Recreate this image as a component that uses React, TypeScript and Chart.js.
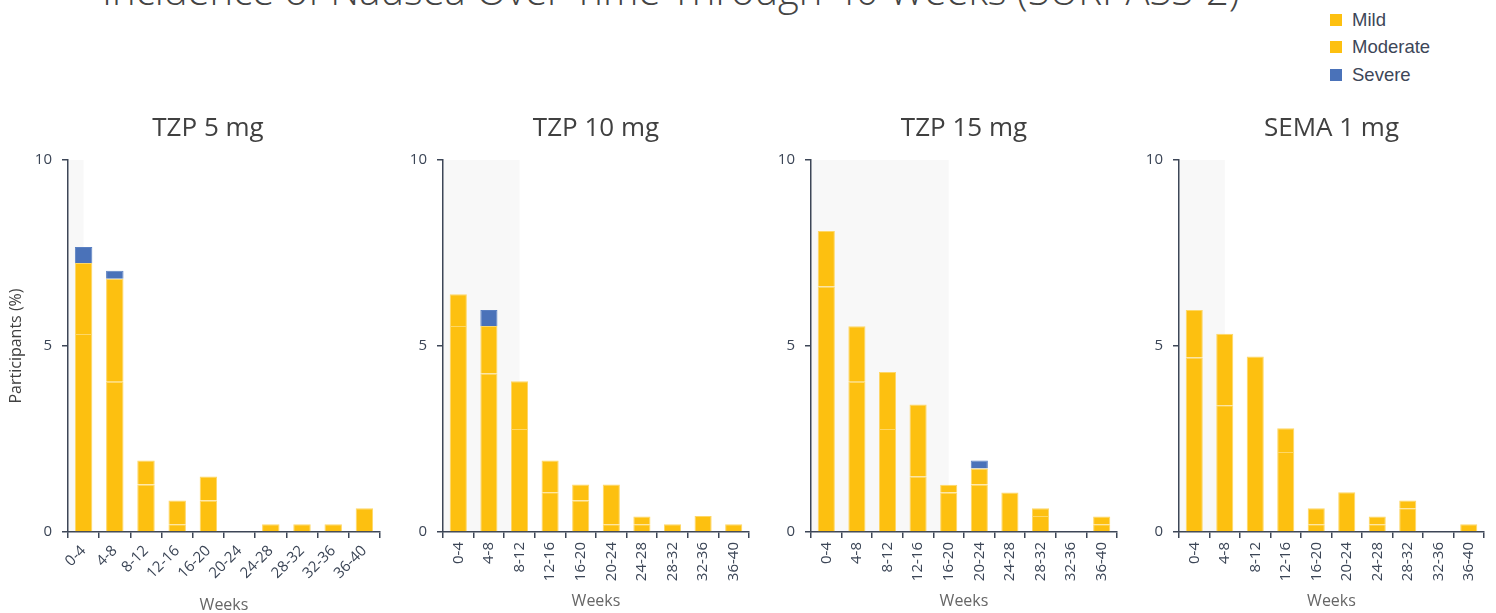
import React, { useEffect, useRef } from 'react';
import { Chart, registerables } from 'chart.js';

Chart.register(...registerables);

// ---------- DATA ----------
const mainTitle = 'Incidence of Nausea Over Time Through 40 Weeks (SURPASS-2)';
const weeks = ['0-4', '4-8', '8-12', '12-16', '16-20', '20-24', '24-28', '28-32', '32-36', '36-40'];
const seriesNames = ['Mild', 'Moderate', 'Severe'];
const seriesColors = ['#FDC010', '#FDC010', '#4A72B9'];
const panelTitles = ['TZP 5 mg', 'TZP 10 mg', 'TZP 15 mg', 'SEMA 1 mg'];
const yTicks = [0, 5, 10];
const yAxisTitle = 'Participants (%)';
const xAxisTitle = 'Weeks';
// index of the week category where the shaded (dose-escalation) band ends
const shadeEnd = [0, 2, 4, 1];

const tzp5Mild = [5.32, 4.04, 1.28, 0.21, 0.85, 0, 0.21, 0.21, 0.21, 0.64];
const tzp5Moderate = [1.91, 2.77, 0.64, 0.64, 0.64, 0, 0, 0, 0, 0];
const tzp5Severe = [0.43, 0.21, 0, 0, 0, 0, 0, 0, 0, 0];

const tzp10Mild = [5.54, 4.26, 2.77, 1.07, 0.85, 0.21, 0.21, 0.21, 0.43, 0.21];
const tzp10Moderate = [0.85, 1.28, 1.28, 0.85, 0.43, 1.07, 0.21, 0, 0, 0];
const tzp10Severe = [0, 0.43, 0, 0, 0, 0, 0, 0, 0, 0];

const tzp15Mild = [6.6, 4.04, 2.77, 1.49, 1.06, 1.28, 1.06, 0.43, 0, 0.21];
const tzp15Moderate = [1.49, 1.49, 1.53, 1.94, 0.21, 0.43, 0, 0.21, 0, 0.21];
const tzp15Severe = [0, 0, 0, 0, 0, 0.21, 0, 0, 0, 0];

const semaMild = [4.69, 3.41, 4.72, 2.15, 0.21, 1.07, 0.21, 0.64, 0, 0.21];
const semaModerate = [1.28, 1.92, 0, 0.64, 0.43, 0, 0.21, 0.21, 0, 0];
const semaSevere = [0, 0, 0, 0, 0, 0, 0, 0, 0, 0];

const panelSeries = [
  [tzp5Mild, tzp5Moderate, tzp5Severe],
  [tzp10Mild, tzp10Moderate, tzp10Severe],
  [tzp15Mild, tzp15Moderate, tzp15Severe],
  [semaMild, semaModerate, semaSevere],
];

// ---------- LAYOUT ----------
const AXIS = '#3D4657';
const TICK_TEXT = '#3B4556';
const FONT = "'Open Sans', 'Noto Sans', sans-serif";

type PanelLayout = {
  left: number;
  width: number;
  yWidth: number;
  rightSpace: number;
  rotation: number;
  yTitle: boolean;
  weeksPadBottom: number;
};

const layouts: PanelLayout[] = [
  { left: 0, width: 416, yWidth: 68, rightSpace: 36, rotation: 45, yTitle: true, weeksPadBottom: -2 },
  { left: 390, width: 369, yWidth: 53, rightSpace: 10, rotation: 90, yTitle: false, weeksPadBottom: 2 },
  { left: 759, width: 368, yWidth: 52, rightSpace: 10, rotation: 90, yTitle: false, weeksPadBottom: 2 },
  { left: 1127, width: 369, yWidth: 52, rightSpace: 12, rotation: 90, yTitle: false, weeksPadBottom: 2 },
];

const CANVAS_TOP = 100;
const CANVAS_H = 513;

function Panel({ index }: { index: number }) {
  const ref = useRef<HTMLCanvasElement | null>(null);
  const lay = layouts[index];

  useEffect(() => {
    if (!ref.current) return;
    const series = panelSeries[index];
    const endIdx = shadeEnd[index];
    const first = index === 0;

    const shadePlugin = {
      id: 'shade' + index,
      beforeDraw(chart: any) {
        const { ctx, chartArea, scales } = chart;
        const x0 = chartArea.left;
        const x1 = scales.x.getPixelForValue(endIdx);
        const yTop = scales.y.getPixelForValue(10);
        const yBot = scales.y.getPixelForValue(0);
        ctx.save();
        ctx.fillStyle = '#F8F8F8';
        ctx.fillRect(x0, yTop, x1 - x0, yBot - yTop);
        ctx.restore();
      },
    };

    const scales: any = {
      x: {
        stacked: true,
        offset: true,
        grid: {
          display: true,
          offset: true,
          drawOnChartArea: false,
          drawTicks: true,
          tickLength: 6,
          color: AXIS,
          lineWidth: 1.5,
        },
        border: { display: true, color: AXIS, width: 1.5 },
        ticks: {
          autoSkip: false,
          minRotation: lay.rotation,
          maxRotation: lay.rotation,
          padding: 4,
          color: TICK_TEXT,
          font: { family: FONT, size: 15 },
        },
        title: {
          display: true,
          text: xAxisTitle,
          color: '#666666',
          font: { family: FONT, size: 16 },
          padding: { top: 0, bottom: lay.weeksPadBottom },
        },
        afterFit(scale: any) {
          scale.height = 81;
          scale.paddingLeft = 0;
          scale.paddingRight = 0;
        },
      },
      y: {
        stacked: true,
        min: 0,
        max: 10,
        afterBuildTicks(scale: any) {
          scale.ticks = yTicks.map((v) => ({ value: v }));
        },
        grid: {
          display: true,
          drawOnChartArea: false,
          drawTicks: true,
          tickLength: 6,
          color: AXIS,
          lineWidth: 1.5,
        },
        border: { display: true, color: AXIS, width: 1.5 },
        ticks: {
          padding: 10,
          color: TICK_TEXT,
          font: { family: FONT, size: 15 },
        },
        title: {
          display: lay.yTitle,
          text: yAxisTitle,
          color: '#404040',
          font: { family: FONT, size: 16 },
          padding: { top: 6.5, bottom: 0 },
        },
        afterFit(scale: any) {
          scale.width = lay.yWidth;
        },
      },
      // empty spacer on the right so the full-width panel title centres like the reference
      spacer: {
        type: 'linear',
        position: 'right',
        display: true,
        grid: { display: false, drawTicks: false },
        border: { display: false },
        ticks: { display: false },
        afterFit(scale: any) {
          scale.width = lay.rightSpace;
        },
      },
    };

    const chart = new Chart(ref.current, {
      type: 'bar',
      data: {
        labels: weeks,
        datasets: seriesNames.map((name, i) => ({
          label: name,
          data: series[i],
          backgroundColor: seriesColors[i],
          borderColor: i === 2 ? '#5A80C2' : '#FED766',
          borderWidth: 1,
          borderSkipped: 'start',
          barPercentage: 0.56,
          categoryPercentage: 1.0,
          yAxisID: 'y',
        })),
      },
      options: {
        responsive: false,
        animation: false,
        devicePixelRatio: 1,
        layout: { padding: 0 },
        plugins: {
          legend: { display: false },
          tooltip: { enabled: false },
          title: {
            display: true,
            text: panelTitles[index],
            color: '#404040',
            font: { family: FONT, size: 26, weight: 'normal' },
            padding: { top: 12.5, bottom: 16.3 },
            fullSize: first,
          },
        },
        scales,
      },
      plugins: [shadePlugin],
    });
    return () => chart.destroy();
  }, [index]);

  return (
    <canvas
      ref={ref}
      width={lay.width}
      height={CANVAS_H}
      style={{ position: 'absolute', left: lay.left, top: CANVAS_TOP, width: lay.width, height: CANVAS_H }}
    />
  );
}

export default function App() {
  return (
    <div style={{ position: 'absolute', left: 0, top: 0, width: 1496, height: 613, overflow: 'hidden', background: '#FFFFFF' }}>
      <div
        style={{
          position: 'absolute',
          left: 102,
          top: -30.5,
          fontFamily: FONT,
          fontWeight: 300,
          fontSize: 40,
          lineHeight: '40px',
          color: '#444444',
          whiteSpace: 'nowrap',
        }}
      >
        {mainTitle}
      </div>
      <div style={{ position: 'absolute', left: 1330, top: 6, fontFamily: "'Liberation Sans', Arial, sans-serif", fontSize: 18.5, color: '#3D4658' }}>
        {seriesNames.map((n, i) => (
          <div key={n} style={{ display: 'flex', alignItems: 'center', height: 27.5 }}>
            <span style={{ display: 'inline-block', width: 12, height: 12, background: seriesColors[i], marginRight: 10 }} />
            <span>{n}</span>
          </div>
        ))}
      </div>
      {layouts.map((_, i) => (
        <Panel key={i} index={i} />
      ))}
    </div>
  );
}
